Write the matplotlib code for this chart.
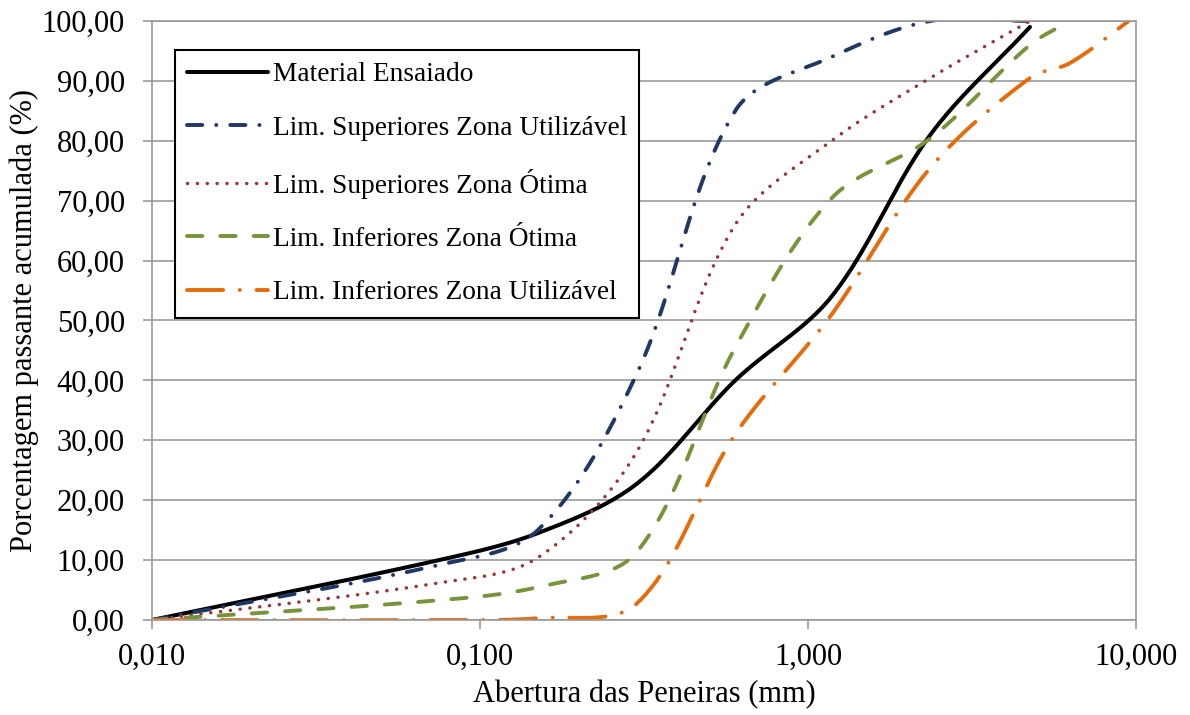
import numpy as np
import matplotlib
matplotlib.use("Agg")
import matplotlib.pyplot as plt
from matplotlib.ticker import FuncFormatter, FixedLocator, NullLocator

plt.rcParams['font.family'] = ['Liberation Serif', 'DejaVu Serif']
plt.rcParams['lines.scale_dashes'] = False

# sieve openings (mm)
sieves = [0.01, 0.075, 0.15, 0.3, 0.6, 1.18, 2.36, 4.75, 6.3, 9.5]

# cumulative passing (%)
material = [0, 10, 14.5, 22.7, 40, 54, 81, 99]
sup_util = [0, 9.2, 15, 41, 85, 94, 100, 100]
sup_otima = [0, 6.2, 10.4, 28, 66, 80, 90.5, 100]
inf_otima = [0, 3.3, 5.5, 11.3, 45.5, 70.4, 80.4, 96, 100]
inf_util = [0, 0, 0.3, 2.7, 31, 51, 75.5, 90.5, 93, 100]

labels = ['Material Ensaiado',
          'Lim. Superiores Zona Utilizável',
          'Lim. Superiores Zona Ótima',
          'Lim. Inferiores Zona Ótima',
          'Lim. Inferiores Zona Utilizável']

fig = plt.figure(figsize=(11.9, 7.15), dpi=100)
ax = fig.add_axes([152 / 1190, 1 - 620 / 715, (1136 - 152) / 1190, (620 - 21) / 715])

# pixel scale, used to smooth the curves like a spreadsheet "smoothed line"
sx = 984 / 3.0
sy = 599 / 100.0


def smooth(x, y, n=40):
    p = np.column_stack([np.log10(x) * sx, np.array(y, float) * sy])
    d = np.linalg.norm(np.diff(p, axis=0), axis=1)
    # chord-length normalised tangents
    tan = np.zeros_like(p)
    for i in range(len(p)):
        a = p[max(i - 1, 0)]
        b = p[min(i + 1, len(p) - 1)]
        da = d[i - 1] if i > 0 else 0
        db = d[i] if i < len(d) else 0
        tan[i] = (b - a) / (da + db)
    out = []
    t = np.linspace(0, 1, n)[:, None]
    for i in range(len(p) - 1):
        p1, p2 = p[i], p[i + 1]
        c1 = p1 + tan[i] * d[i] / 3
        c2 = p2 - tan[i + 1] * d[i] / 3
        seg = (1 - t) ** 3 * p1 + 3 * (1 - t) ** 2 * t * c1 + 3 * (1 - t) * t ** 2 * c2 + t ** 3 * p2
        out.append(seg if i == 0 else seg[1:])
    pts = np.vstack(out)
    return 10 ** (pts[:, 0] / sx), pts[:, 1] / sy


series = [material, sup_util, sup_otima, inf_otima, inf_util]
styles = [
    dict(color='black', lw=2.9, ls='-'),
    dict(color='#1F3864', lw=2.8, ls=(0, (11, 10, 0.1, 10))),
    dict(color='#953735', lw=2.5, ls=(0, (0.1, 7))),
    dict(color='#77933C', lw=2.8, ls=(0, (11, 13))),
    dict(color='#E46C0A', lw=2.8, ls=(0, (26, 12, 0.1, 12))),
]

for vals, st, lab in zip(series, styles, labels):
    xs, ys = smooth(sieves[:len(vals)], vals)
    ax.plot(xs, ys, label=lab, color=st['color'], lw=st['lw'], linestyle=st['ls'],
            dash_capstyle='round', solid_capstyle='round')

ax.set_xscale('log')
ax.set_xlim(0.01, 10)
ax.set_ylim(0, 100)
ax.xaxis.set_major_locator(FixedLocator([0.01, 0.1, 1, 10]))
ax.xaxis.set_minor_locator(NullLocator())
ax.set_yticks(np.arange(0, 101, 10))
ax.xaxis.set_major_formatter(FuncFormatter(lambda v, p: f'{v:.3f}'.replace('.', ',')))
ax.yaxis.set_major_formatter(FuncFormatter(lambda v, p: f'{v:.2f}'.replace('.', ',')))

gray = '#999999'
ax.yaxis.grid(True, color=gray, lw=1.2)
ax.set_axisbelow(True)
for s in ax.spines.values():
    s.set_color(gray)
    s.set_linewidth(1.2)
ax.tick_params(axis='both', direction='out', color=gray, width=1.2, length=6.5,
               labelsize=22, colors='black')
ax.tick_params(axis='x', pad=10, color=gray)
ax.tick_params(axis='y', pad=13, color=gray)

ax.set_xlabel('Abertura das Peneiras (mm)', fontsize=22, labelpad=6)
ax.set_ylabel('Porcentagem passante acumulada (%)', fontsize=22, labelpad=2)

leg = ax.legend(loc='upper left', bbox_to_anchor=(0.023, 0.952), borderaxespad=0,
                fontsize=19.7, handlelength=2.95, handletextpad=0.18, borderpad=0.45,
                labelspacing=1.03, fancybox=False, framealpha=1, edgecolor='black')
leg.get_frame().set_linewidth(1.5)

fig.savefig('out.png', dpi=100)
